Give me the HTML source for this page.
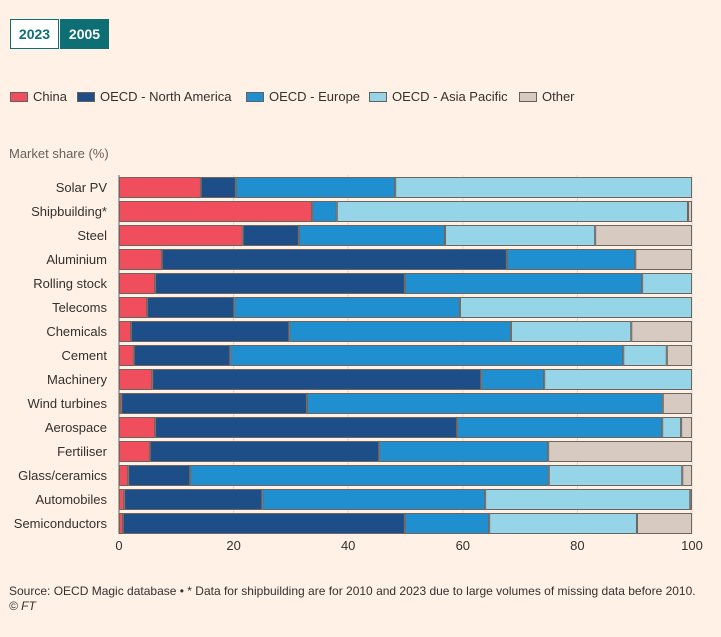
<!DOCTYPE html>
<html><head><meta charset="utf-8"><style>
body{margin:0;background:#fff1e5;font-family:"Liberation Sans",sans-serif;}
#wrap{position:relative;width:721px;height:637px;background:#fff1e5;overflow:hidden}
.tg{position:absolute;top:19px;height:30px;width:49px;box-sizing:border-box;font-size:14px;font-weight:bold;line-height:28px;text-align:center;border:1px solid #0d6e73}
.lg{position:absolute;top:89px;font-size:13px;color:#33302e;display:flex;align-items:center}
.lg span{display:inline-block;width:18px;height:10px;margin-right:5px;border:1px solid #66605c;box-sizing:border-box}
</style></head><body>
<div id="wrap">
<div class="tg" style="left:10px;color:#0d6e73;background:#fff">2023</div>
<div class="tg" style="left:60px;color:#fff;background:#0d6e73">2005</div>
<div class="lg" style="left:10px"><span style="background:#f04d5d"></span>China</div>
<div class="lg" style="left:77px"><span style="background:#1e4e88"></span>OECD - North America</div>
<div class="lg" style="left:246px"><span style="background:#1f8fcf"></span>OECD - Europe</div>
<div class="lg" style="left:369px"><span style="background:#96d4e8"></span>OECD - Asia Pacific</div>
<div class="lg" style="left:519px"><span style="background:#d7cac1"></span>Other</div>
<div style="position:absolute;left:9px;top:146px;font-size:13px;color:#66605c">Market share (%)</div>
<svg id="svg" width="721" height="637" style="position:absolute;left:0;top:0"></svg>
<div style="position:absolute;left:9px;top:584px;font-size:12px;line-height:15px;color:#33302e">Source: OECD Magic database • * Data for shipbuilding are for 2010 and 2023 due to large volumes of missing data before 2010.<br><i>© FT</i></div>
</div>
<script>
const categories=["Solar PV","Shipbuilding*","Steel","Aluminium","Rolling stock","Telecoms","Chemicals","Cement","Machinery","Wind turbines","Aerospace","Fertiliser","Glass/ceramics","Automobiles","Semiconductors"];
const china=[14.3,33.7,21.6,7.5,6.3,4.9,2.1,2.6,5.8,0.4,6.3,5.4,1.6,0.9,0.7];
const northAmerica=[6.1,0,9.8,60.2,43.6,15.2,27.6,16.8,57.4,32.4,52.7,40.0,10.8,24.1,49.2];
const europe=[27.8,4.3,25.5,22.4,41.4,39.4,38.7,68.6,11.0,62.1,35.8,29.5,62.6,38.9,14.7];
const asiaPacific=[51.8,61.3,26.2,0,8.7,40.5,21.0,7.6,25.8,0,3.3,0,23.3,35.8,25.8];
const other=[0,0.7,16.9,9.9,0,0,10.6,4.4,0,5.1,1.9,25.1,1.7,0.3,9.6];
const xTicks=[0,20,40,60,80,100];
const colors=["#f04d5d","#1e4e88","#1f8fcf","#96d4e8","#d7cac1"];
const seriesNames=["china","north-america","europe","asia-pacific","other"];
const series=[china,northAmerica,europe,asiaPacific,other];
const NS="http://www.w3.org/2000/svg";
const svg=document.getElementById('svg');
const x=v=>119+v*5.73;
const y=i=>177+i*24;
function mk(t,a){const e=document.createElementNS(NS,t);for(const k in a)e.setAttribute(k,a[k]);svg.appendChild(e);return e;}
xTicks.forEach(t=>{
 const g=mk('line',{x1:x(t),x2:x(t),y1:175,y2:534,stroke:t===0?'#66605c':'#e0d8d0','stroke-width':1});
 
 
 const tx=mk('text',{x:x(t),y:550,'text-anchor':'middle','font-size':13,fill:'#33302e','font-family':'Liberation Sans, sans-serif'});
 tx.textContent=t;
 
 
});
categories.forEach((c,i)=>{
 const lb=mk('text',{x:107,y:y(i)+15,'text-anchor':'end','font-size':13,fill:'#33302e','font-family':'Liberation Sans, sans-serif'});
 lb.textContent=c;
 
 
 let acc=0;
 series.forEach((s,j)=>{
  const v=s[i];
  if(v>0){
   const r=mk('rect',{x:x(acc)+0.5,y:y(i)+0.5,width:Math.max(0,x(acc+v)-x(acc)-1),height:20,fill:colors[j],stroke:'#6e6560','stroke-width':1});
   
   
  }
  acc+=v;
 });
});
</script>
</body></html>
